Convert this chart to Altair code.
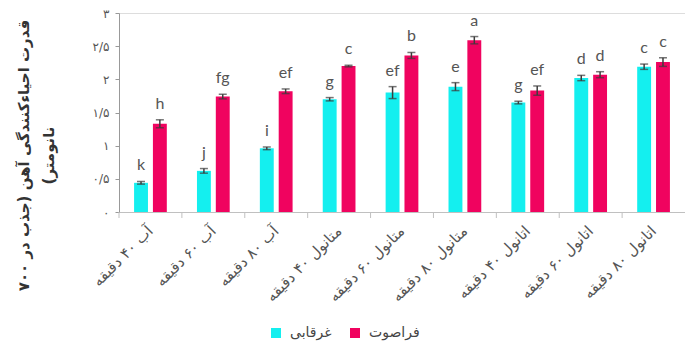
import altair as alt
import pandas as pd

categories = ["آب ۴۰ دقیقه", "آب ۶۰ دقیقه", "آب ۸۰ دقیقه",
              "متانول ۴۰ دقیقه", "متانول ۶۰ دقیقه", "متانول ۸۰ دقیقه",
              "اتانول ۴۰ دقیقه", "اتانول ۶۰ دقیقه", "اتانول ۸۰ دقیقه"]
methods = ["غرقابی", "فراصوت"]
method_colors = ["#14EFEF", "#F0035F"]

soak_vals = [0.44, 0.62, 0.96, 1.70, 1.80, 1.89, 1.65, 2.02, 2.19]
soak_err = [0.02, 0.035, 0.02, 0.025, 0.09, 0.06, 0.02, 0.04, 0.04]
soak_letters = ["k", "j", "i", "g", "ef", "e", "g", "d", "c"]

ultra_vals = [1.33, 1.74, 1.82, 2.20, 2.36, 2.59, 1.83, 2.07, 2.26]
ultra_err = [0.06, 0.035, 0.035, 0.012, 0.045, 0.055, 0.07, 0.045, 0.065]
ultra_letters = ["h", "fg", "ef", "c", "b", "a", "ef", "d", "c"]

y_tick_values = [0, 0.5, 1, 1.5, 2, 2.5, 3]
y_tick_labels = ["۰", "۰/۵", "۱", "۱/۵", "۲", "۲/۵", "۳"]

y_title = ["قدرت احیاءکنندگی آهن (جذب در ۷۰۰", "نانومتر)\u200f"]

rows = []
for series, vals, errs, lets in [(methods[0], soak_vals, soak_err, soak_letters),
                                 (methods[1], ultra_vals, ultra_err, ultra_letters)]:
    for c, v, e, l in zip(categories, vals, errs, lets):
        rows.append({"cat": c, "method": series, "value": v,
                     "lo": v - e, "hi": v + e, "letter": l})
df = pd.DataFrame(rows)
ticks_df = pd.DataFrame({"cat": categories})

label_expr = ""
for v, t in zip(y_tick_values, y_tick_labels):
    label_expr += f"abs(datum.value - {v}) < 0.01 ? '{t}' : "
label_expr += "''"

W, H = 566, 199
FONT_AR = "DejaVu Sans"

x_enc = alt.X("cat:N", sort=categories,
              scale=alt.Scale(paddingInner=0, paddingOuter=0),
              axis=alt.Axis(title=None, ticks=False, domainColor="#c0c0c0",
                            labelAngle=-45, labelAlign="right", labelBaseline="middle",
                            labelPadding=16, labelFont=FONT_AR, labelFontSize=15,
                            labelColor="#555555", labelLimit=300, labelOverlap=False))
xoff_enc = alt.XOffset("method:N", sort=methods,
                       scale=alt.Scale(paddingInner=0.263, paddingOuter=0.8))
y_scale = alt.Scale(domain=[0, 3], nice=False)

base = alt.Chart(df).encode(x=x_enc, xOffset=xoff_enc)

bars = base.mark_bar().encode(
    y=alt.Y("value:Q", scale=y_scale,
            axis=alt.Axis(values=y_tick_values, labelExpr=label_expr, grid=False,
                          labelOverlap=False, tickCount=7,
                          domainColor="#999999", tickColor="#999999", tickSize=4,
                          labelPadding=6, labelFont=FONT_AR, labelFontSize=12,
                          labelColor="#555555",
                          title=y_title, titleFont=FONT_AR, titleFontSize=15,
                          titleFontWeight="bold", titleColor="#333333",
                          titleAngle=270, titleX=-103, titleY=142,
                          titleAlign="center", titleBaseline="top",
                          titleLineHeight=25)),
    color=alt.Color("method:N", sort=methods,
                    scale=alt.Scale(domain=methods, range=method_colors),
                    legend=alt.Legend(title=None, orient="none", legendX=150, legendY=313,
                                      direction="horizontal", symbolType="square",
                                      symbolSize=100, symbolStrokeWidth=0,
                                      labelFont=FONT_AR, labelFontSize=14,
                                      labelColor="#444444", columnPadding=16,
                                      labelOffset=7)),
)

err_rule = base.mark_rule(color="#3c3c3c", strokeWidth=1.5).encode(
    y=alt.Y("lo:Q", scale=y_scale), y2="hi:Q")
cap_hi = base.mark_tick(color="#3c3c3c", thickness=1.5, size=8).encode(
    y=alt.Y("hi:Q", scale=y_scale))
cap_lo = base.mark_tick(color="#3c3c3c", thickness=1.5, size=8).encode(
    y=alt.Y("lo:Q", scale=y_scale))
letters = base.mark_text(font="Lato", fontSize=16, color="#555555",
                         baseline="alphabetic", dy=-11).encode(
    y=alt.Y("hi:Q", scale=y_scale), text="letter:N")

x_ticks = alt.Chart(ticks_df).mark_rule(color="#c0c0c0").encode(
    x=alt.X("cat:N", sort=categories, bandPosition=0),
    y=alt.value(H), y2=alt.value(H + 6))

chart = alt.layer(bars, err_rule, cap_hi, cap_lo, letters, x_ticks).properties(
    width=W, height=H,
    autosize=alt.AutoSizeParams(type="none"),
    padding={"left": 119, "top": 13, "right": 0, "bottom": 134},
).configure_view(stroke=None).configure(background="white")

chart.save("out.html", embed_options={"renderer": "svg", "actions": False})
